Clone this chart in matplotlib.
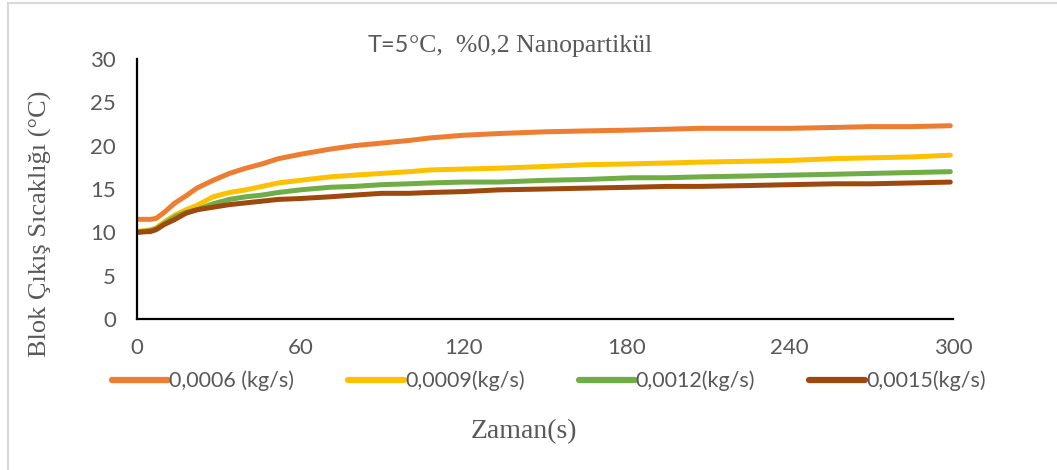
import matplotlib.pyplot as plt
from matplotlib.lines import Line2D

# Time (s) and outlet temperature (°C) for each flow rate
zaman = [0, 5, 7, 10, 14, 18, 22, 28, 34, 40, 46, 52, 60, 71, 80, 90, 100, 108, 120,
         133, 150, 165, 182, 195, 207, 225, 240, 256, 270, 285, 299]
t_0006 = [11.5, 11.5, 11.6, 12.3, 13.4, 14.2, 15.1, 16.0, 16.8, 17.4, 17.9, 18.5, 19.0,
          19.6, 20.0, 20.3, 20.6, 20.9, 21.2, 21.4, 21.6, 21.7, 21.8, 21.9, 22.0, 22.0,
          22.0, 22.1, 22.2, 22.2, 22.3]
t_0009 = [10.1, 10.3, 10.5, 11.2, 12.0, 12.6, 13.1, 14.1, 14.6, 14.9, 15.3, 15.7, 16.0,
          16.4, 16.6, 16.8, 17.0, 17.2, 17.3, 17.4, 17.6, 17.8, 17.9, 18.0, 18.1, 18.2,
          18.3, 18.5, 18.6, 18.7, 18.9]
t_0012 = [10.0, 10.2, 10.4, 11.0, 11.8, 12.3, 12.6, 13.3, 13.8, 14.1, 14.3, 14.6, 14.9,
          15.2, 15.3, 15.5, 15.6, 15.7, 15.8, 15.8, 16.0, 16.1, 16.3, 16.3, 16.4, 16.5,
          16.6, 16.7, 16.8, 16.9, 17.0]
t_0015 = [10.0, 10.1, 10.3, 10.9, 11.5, 12.2, 12.6, 12.9, 13.2, 13.4, 13.6, 13.8, 13.9,
          14.1, 14.3, 14.5, 14.5, 14.6, 14.7, 14.9, 15.0, 15.1, 15.2, 15.3, 15.3, 15.4,
          15.5, 15.6, 15.6, 15.7, 15.8]

etiketler = ["0,0006 (kg/s)", "0,0009(kg/s)", "0,0012(kg/s)", "0,0015(kg/s)"]
renkler = ["#ED7D31", "#FFC000", "#70AD47", "#9E480E"]
seriler = [t_0006, t_0009, t_0012, t_0015]

serif = ["Liberation Serif", "DejaVu Serif"]
sans = ["Lato", "DejaVu Sans"]
gri = "#595959"

fig = plt.figure(figsize=(10.57, 4.70), dpi=100)
ax = fig.add_axes([137 / 1057, 1 - 319 / 470, (953 - 137) / 1057, (319 - 59) / 470])

for y, renk in zip(seriler, renkler):
    ax.plot(zaman, y, color=renk, linewidth=3.6, solid_capstyle="round",
            solid_joinstyle="round")

ax.set_xlim(0, 300)
ax.set_ylim(0, 30)
ax.set_xticks(range(0, 301, 60))
ax.set_yticks(range(0, 31, 5))
ax.tick_params(length=0, labelsize=16, colors=gri)
ax.tick_params(axis="x", pad=14)
ax.tick_params(axis="y", pad=15)
for lbl in ax.get_xticklabels() + ax.get_yticklabels():
    lbl.set_family(sans)
for side in ("top", "right"):
    ax.spines[side].set_visible(False)
for side in ("left", "bottom"):
    ax.spines[side].set_color("black")
    ax.spines[side].set_linewidth(1.6)

# title: "T=5" in sans, the rest in serif
baslik_y = 1 - 46 / 470
t1 = fig.text(368 / 1057, baslik_y, "T=5", ha="left", va="center",
              fontsize=17, family=sans, color=gri)
fig.canvas.draw()
bb = t1.get_window_extent()
fig.text(bb.x1 / 1057, baslik_y, "°C,  %0,2 Nanopartikül", ha="left", va="center",
         fontsize=18.5, family=serif, color=gri)

fig.text(40 / 1057, 1 - 224 / 470, "Blok Çıkış Sıcaklığı (°C)", rotation=90, ha="center",
         va="center", fontsize=19, family=serif, color=gri)
fig.text(524 / 1057, 1 - 432 / 470, "Zaman(s)", ha="center", va="center",
         fontsize=20, family=serif, color=gri)

tutamaklar = [Line2D([], [], color=r, linewidth=4.5, solid_capstyle="round") for r in renkler]
leg = fig.legend(tutamaklar, etiketler, loc="center", bbox_to_anchor=(549 / 1057, 1 - 381 / 470),
                 ncol=4, frameon=False, handlelength=2.6, handletextpad=0.05,
                 columnspacing=2.5, prop={"family": sans, "size": 15.5})
for txt in leg.get_texts():
    txt.set_color(gri)

# light frame along the top and left edge
fig.add_artist(Line2D([8 / 1057, 1], [1 - 2.5 / 470, 1 - 2.5 / 470], color="#D9D9D9",
                      linewidth=1.5, transform=fig.transFigure))
fig.add_artist(Line2D([8 / 1057, 8 / 1057], [0, 1 - 2.5 / 470], color="#D9D9D9",
                      linewidth=1.5, transform=fig.transFigure))

fig.savefig("out.png", dpi=100)
